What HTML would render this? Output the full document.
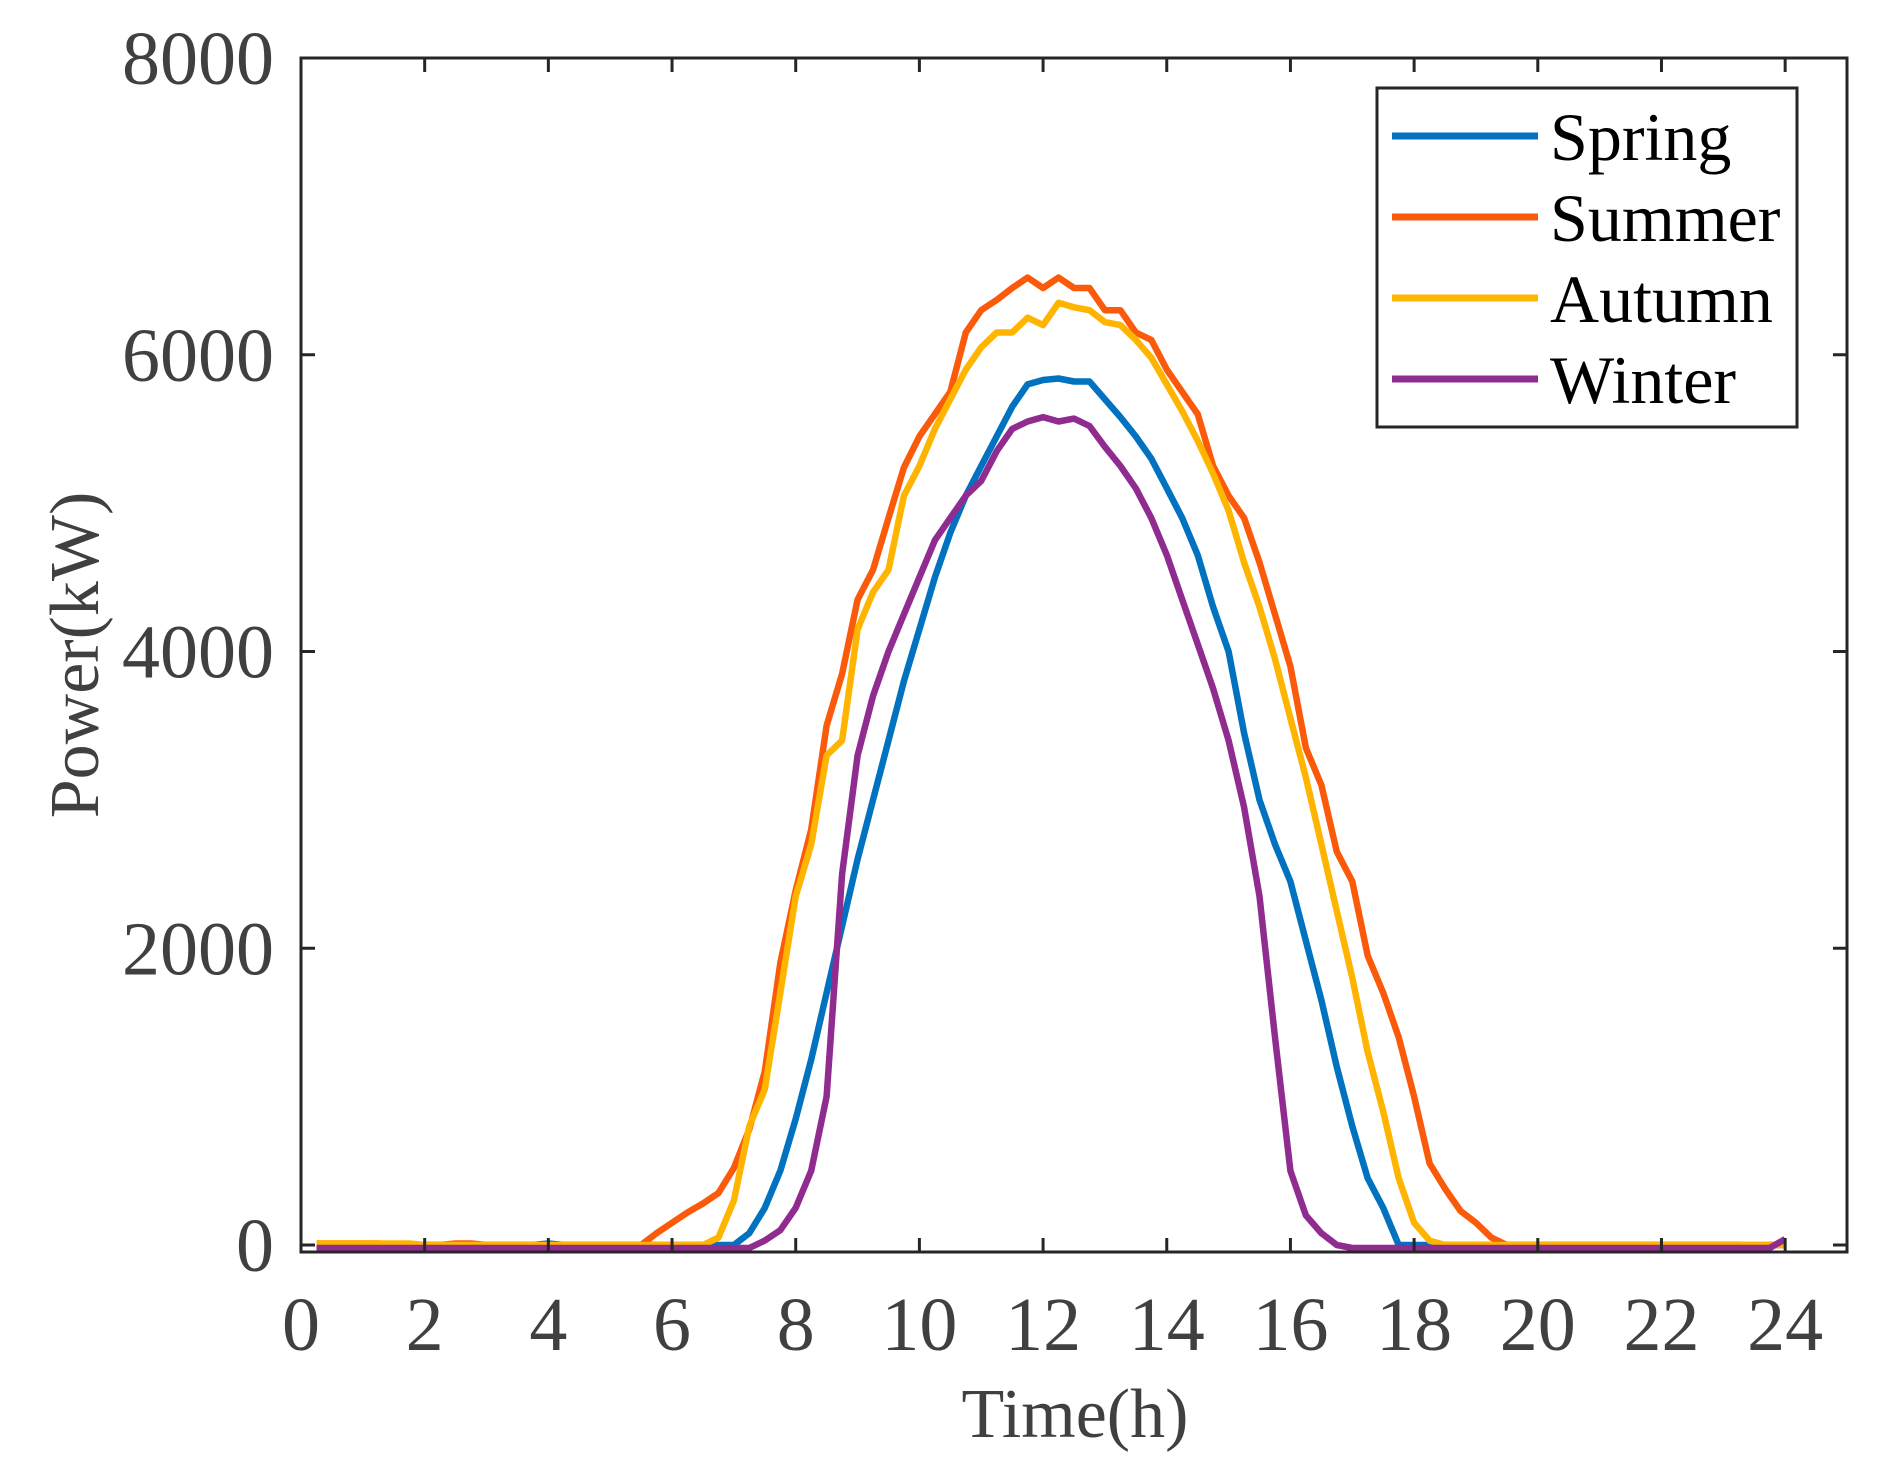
<!DOCTYPE html>
<html><head><meta charset="utf-8"><style>
html,body{margin:0;padding:0;background:#fff;}
svg{display:block;}
text{font-family:"Liberation Serif",serif;}
</style></head><body>
<svg id="chart" width="1890" height="1480" viewBox="0 0 1890 1480" xmlns="http://www.w3.org/2000/svg">
<rect width="1890" height="1480" fill="#fff"/>
<g id="series"></g>
<g id="axes"></g>
<g id="legend"></g>
<text x="1075" y="1437" font-size="70" fill="#404040" text-anchor="middle">Time(h)</text>
<text x="0" y="0" font-size="70" fill="#404040" text-anchor="middle" transform="translate(98,655) rotate(-90)">Power(kW)</text>
</svg>
<script>
const hours = [0.25,0.5,0.75,1,1.25,1.5,1.75,2,2.25,2.5,2.75,3,3.25,3.5,3.75,4,4.25,4.5,4.75,5,5.25,5.5,5.75,6,6.25,6.5,6.75,7,7.25,7.5,7.75,8,8.25,8.5,8.75,9,9.25,9.5,9.75,10,10.25,10.5,10.75,11,11.25,11.5,11.75,12,12.25,12.5,12.75,13,13.25,13.5,13.75,14,14.25,14.5,14.75,15,15.25,15.5,15.75,16,16.25,16.5,16.75,17,17.25,17.5,17.75,18,18.25,18.5,18.75,19,19.25,19.5,19.75,20,20.25,20.5,20.75,21,21.25,21.5,21.75,22,22.25,22.5,22.75,23,23.25,23.5,23.75,24];
const spring = [0,0,0,0,0,0,0,0,0,0,0,0,0,0,0,10,0,0,0,0,0,0,0,0,0,0,0,0,
80,250,500,850,1250,1700,2150,2600,3000,3400,3800,4150,4500,4800,5050,5250,5450,5650,5800,5830,5840,5820,5820,5700,5580,5450,5300,5100,4900,4650,4300,4000,3450,3000,2700,2450,2050,1650,1200,800,450,250,0,
0,0,0,0,0,0,0,0,0,0,0,0,0,0,0,0,0,0,0,0,0,0,-10,0,0];
const summer = [10,10,10,10,10,0,0,0,0,10,10,0,0,0,0,0,0,0,0,0,0,0,
80,150,220,280,350,520,780,1170,1900,2390,2800,3500,3850,4350,4550,4900,5240,5450,5600,5750,6150,6300,6370,6450,6520,6450,6520,6450,6450,6300,6300,6150,6100,5900,5750,5600,5250,5050,4900,4600,4250,3900,3350,3100,2650,2450,1950,1700,1400,1000,550,380,230,150,50,0,
0,0,0,0,0,0,0,0,0,0,0,0,0,0,0,0,0,0];
const autumn = [10,10,10,10,10,10,10,0,0,0,0,0,0,0,0,0,0,0,0,0,0,0,0,0,0,0,
50,300,800,1050,1700,2350,2700,3300,3400,4150,4400,4550,5050,5250,5500,5700,5900,6050,6150,6150,6250,6200,6350,6320,6300,6220,6200,6100,5980,5800,5620,5420,5200,4950,4600,4300,3950,3550,3150,2700,2250,1800,1300,900,450,150,30,0,
0,0,0,0,0,0,0,0,0,0,0,0,0,0,0,0,0,0,0,0,0,0];
const winter = [-20,-20,-20,-20,-20,-20,-20,-20,-20,-20,-20,-20,-20,-20,-20,-20,-20,-20,-20,-20,-20,-20,-20,-20,-20,-20,-20,-20,-20,
30,100,250,500,1000,2500,3300,3700,4000,4250,4500,4750,4900,5050,5150,5350,5500,5550,5580,5550,5570,5520,5380,5250,5100,4900,4650,4350,4050,3750,3400,2950,2350,1400,500,200,80,0,
-20,-20,-20,-20,-20,-20,-20,-20,-20,-20,-20,-20,-20,-20,-20,-20,-20,-20,-20,-20,-20,-20,-20,-20,-20,-20,-20,-20,40];
const seriesNames = ["Spring","Summer","Autumn","Winter"];
const xTicks = [0,2,4,6,8,10,12,14,16,18,20,22,24];
const yTicks = [0,2000,4000,6000,8000];

const NS = "http://www.w3.org/2000/svg";
const L = 301, R = 1847, T = 58, B = 1252;
const xMin = 0, xMax = 25, yMin = -47, yMax = 8000;
function sx(v){ return L + (v - xMin) / (xMax - xMin) * (R - L); }
function sy(v){ return B - (v - yMin) / (yMax - yMin) * (B - T); }
function mk(tag, attrs, parent){ const e = document.createElementNS(NS, tag); for (const k in attrs) e.setAttribute(k, attrs[k]); parent.appendChild(e); return e; }

const colors = ["#0072C0","#FA5A0A","#FFB400","#902C90"];
const data = [spring, summer, autumn, winter];
const sg = document.getElementById("series");
data.forEach((arr, si) => {
  const d = arr.map((v, i) => (i ? "L" : "M") + sx(hours[i]).toFixed(1) + "," + sy(v).toFixed(1)).join(" ");
  const p = mk("path", {d: d, fill: "none", stroke: colors[si], "stroke-width": 6.5, "stroke-linejoin": "round"}, sg);
  
  
});

const ag = document.getElementById("axes");
const box = mk("rect", {x: L, y: T, width: R - L, height: B - T, fill: "none", stroke: "#262626", "stroke-width": 3}, ag);


xTicks.forEach(t => {
  const x = sx(t);
  const tk = mk("path", {d: `M${x},${B}V${B-14}M${x},${T}V${T+14}`, stroke: "#262626", "stroke-width": 3}, ag);
  
  
  const lb = mk("text", {x: x, y: 1350, "font-size": 76, fill: "#404040", "text-anchor": "middle"}, ag);
  lb.textContent = t;
  
  
});
yTicks.forEach(t => {
  const y = sy(t);
  const tk = mk("path", {d: `M${L},${y}H${L+14}M${R},${y}H${R-14}`, stroke: "#262626", "stroke-width": 3}, ag);
  
  
  const lb = mk("text", {x: 274, y: y + 26, "font-size": 76, fill: "#404040", "text-anchor": "end"}, ag);
  lb.textContent = t;
  
  
});

const lg = document.getElementById("legend");
const lbox = mk("rect", {x: 1377, y: 88, width: 420, height: 339, fill: "#fff", stroke: "#262626", "stroke-width": 3}, lg);


const ly = [136, 217, 298, 379];
seriesNames.forEach((n, i) => {
  const ln = mk("line", {x1: 1392, x2: 1538, y1: ly[i], y2: ly[i], stroke: colors[i], "stroke-width": 7}, lg);
  
  
  const tx = mk("text", {x: 1550, y: ly[i] + 24, "font-size": 68, fill: "#000"}, lg);
  tx.textContent = n;
  
  
});
</script>
</body></html>
